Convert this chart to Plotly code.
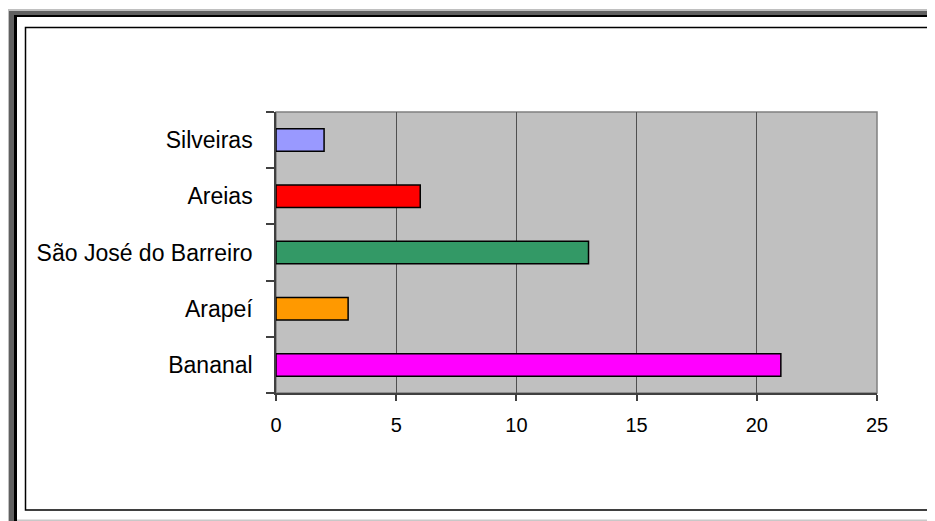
import plotly.graph_objects as go

categories = ["Bananal", "Arapeí", "São José do Barreiro", "Areias", "Silveiras"]
values = [21, 3, 13, 6, 2]
bar_colors = ["#FF00FF", "#FF9900", "#339966", "#FF0000", "#9999FF"]
x_ticks = [0, 5, 10, 15, 20, 25]

# the page body has an 8px margin; size the figure so it ends at the window edge
OFF = 8
PAGE_W, PAGE_H = 935, 521
W, H = PAGE_W - OFF, PAGE_H - OFF

def px(x):
    return (x - OFF) / W

def py(y):
    return 1 - (y - OFF) / H

fig = go.Figure(go.Bar(
    x=values, y=categories, orientation="h",
    marker=dict(color=bar_colors, line=dict(color="#000000", width=1.5)),
    hoverinfo="x+y",
))

FONT = "Liberation Sans, Arial, sans-serif"

shapes = []
def rect(x0, y0, x1, y1, color):
    shapes.append(dict(type="rect", xref="paper", yref="paper",
                       x0=px(max(x0, OFF)), x1=px(x1), y0=py(y1), y1=py(max(y0, OFF)),
                       fillcolor=color, line=dict(width=0), layer="above"))

# outer frame
rect(7, 9, PAGE_W, 11, "#C0C0C0")
rect(7, 9, 9, PAGE_H, "#C0C0C0")
rect(9, 11, PAGE_W, 15, "#606060")
rect(9, 11, 14, PAGE_H, "#606060")
rect(14, 15, PAGE_W, 17, "#000000")
rect(14, 15, 17, PAGE_H, "#000000")
rect(17, 519.5, PAGE_W, PAGE_H, "#C8C8C8")
# inner chart border
shapes.append(dict(type="rect", xref="paper", yref="paper",
                   x0=px(25.5), x1=px(928), y0=py(510), y1=py(27.5),
                   line=dict(color="#000000", width=1.5), fillcolor="rgba(0,0,0,0)"))
# plot area border (top/right gray)
shapes.append(dict(type="rect", xref="x domain", yref="y domain",
                   x0=0, x1=1, y0=0, y1=1,
                   line=dict(color="#808080", width=1.5), fillcolor="rgba(0,0,0,0)",
                   layer="below"))

fig.update_layout(
    template="none",
    width=W, height=H,
    autosize=False,
    margin=dict(l=0, r=0, t=0, b=0, pad=0),
    paper_bgcolor="#FFFFFF",
    plot_bgcolor="#C0C0C0",
    showlegend=False,
    bargap=0.6,
    shapes=shapes,
    font=dict(family=FONT, color="#000000"),
    xaxis=dict(
        domain=[px(276), px(877)],
        range=[0, 25],
        tickvals=x_ticks,
        ticktext=[str(t) for t in x_ticks],
        showgrid=True, gridcolor="#505050", gridwidth=1,
        showline=True, linecolor="#404040", linewidth=1.5,
        ticks="outside", ticklen=6, tickcolor="#404040", tickwidth=1.5,
        ticklabelstandoff=7,
        tickfont=dict(size=20, family=FONT, color="#000000"),
        zeroline=False, fixedrange=True, automargin=False,
    ),
    yaxis=dict(
        domain=[py(393), py(112)],
        categoryorder="array", categoryarray=categories,
        showgrid=False,
        showline=True, linecolor="#404040", linewidth=1.5,
        ticks="outside", ticklen=8, tickcolor="#404040", tickwidth=1.5,
        tickson="boundaries",
        ticklabelstandoff=17,
        tickfont=dict(size=23, family=FONT, color="#000000"),
        zeroline=False, fixedrange=True, automargin=False,
    ),
)

fig.write_html("out.html")
